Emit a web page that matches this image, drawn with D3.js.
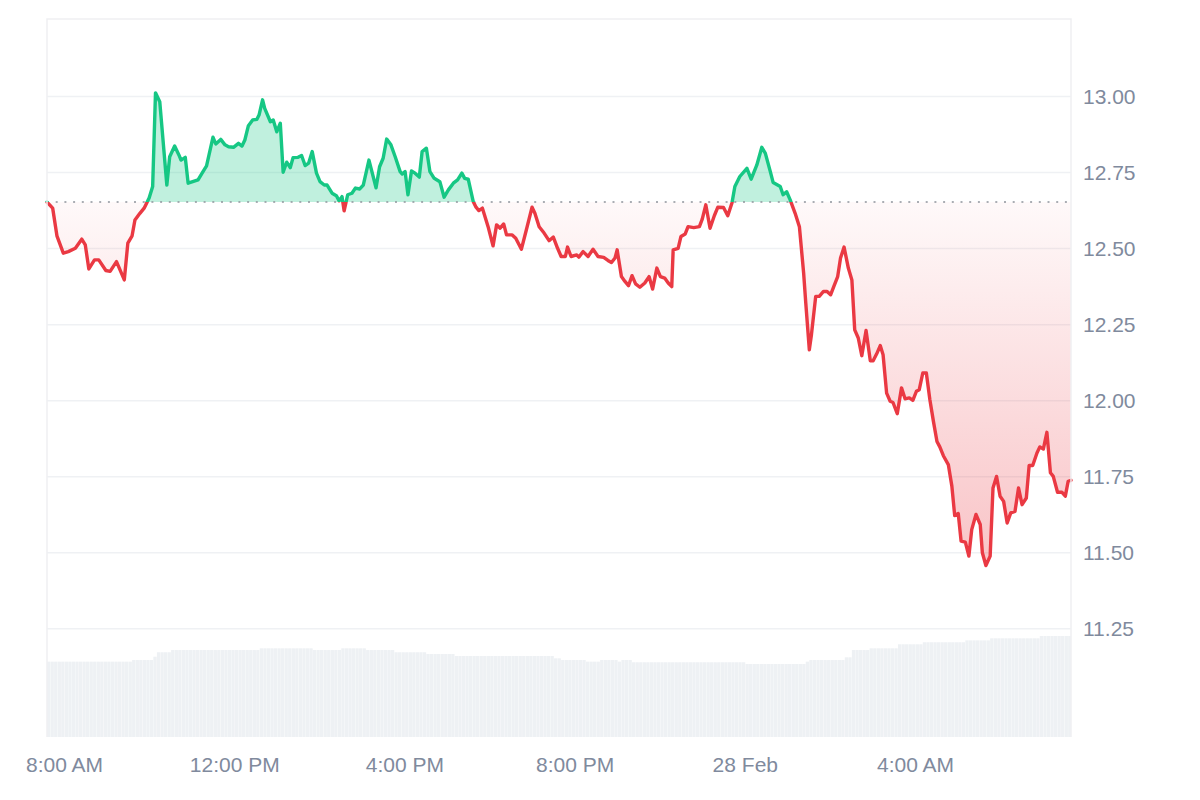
<!DOCTYPE html>
<html><head><meta charset="utf-8">
<script src="https://cdn.jsdelivr.net/npm/d3@7"></script>
<style>
html,body{margin:0;padding:0;background:#fff;}
svg{display:block;font-family:"Liberation Sans",Arial,Helvetica,sans-serif;}
</style>
</head><body>
<svg id="chart" width="1200" height="800"></svg>
<script>
// ---------- DATA ----------
const startTime = "2025-02-27 07:36";
// minutes after startTime for each price sample
const minutes = [
0,8,14,23,30,40,49,54,59,67,73,83,89,98,109,114,120,124,131,137,
144,149,153,159,169,173,180,186,189,195,199,213,220,225,234,238,245,251,256,263,
270,275,279,284,290,296,299,304,307,315,319,324,329,333,338,343,347,354,359,364,
369,374,380,385,391,395,402,408,412,416,419,424,430,435,441,446,454,464,469,474,
479,485,491,498,501,505,509,514,519,525,529,535,540,546,554,560,566,573,579,585,
589,594,601,605,609,614,622,629,634,639,644,648,656,661,669,676,684,688,694,701,
708,714,720,725,731,734,739,747,750,756,763,770,777,785,791,796,801,804,810,815,
820,825,830,836,843,849,854,860,865,871,876,881,883,890,894,900,904,912,920,924,
929,935,941,946,954,960,966,970,977,987,993,1001,1008,1013,1020,1024,1034,1038,1043,1048,
1055,1061,1067,1070,1075,1078,1084,1089,1095,1100,1105,1110,1115,1119,1124,1130,1135,1139,1144,1149,
1155,1161,1165,1170,1175,1179,1184,1189,1193,1199,1205,1210,1216,1221,1226,1230,1235,1240,1245,1250,
1255,1259,1264,1271,1276,1280,1285,1289,1295,1300,1304,1310,1316,1319,1324,1330,1334,1339,1344,1349,
1354,1359,1365,1370,1375,1381,1385,1390,1396,1400,1405,1410,1415,1419,1425,1431,1436,1440,1444
];
const prices = [
12.653,12.633,12.542,12.485,12.490,12.501,12.531,12.512,12.433,12.463,12.463,12.428,12.425,12.457,12.397,12.518,12.542,12.594,12.616,12.633,
12.666,12.704,13.012,12.983,12.709,12.802,12.837,12.808,12.791,12.800,12.715,12.726,12.753,12.772,12.866,12.844,12.859,12.841,12.835,12.833,
12.846,12.837,12.857,12.904,12.923,12.925,12.939,12.989,12.961,12.917,12.923,12.884,12.912,12.751,12.784,12.766,12.799,12.800,12.806,12.773,
12.781,12.819,12.748,12.720,12.709,12.709,12.682,12.674,12.657,12.671,12.624,12.677,12.682,12.699,12.696,12.709,12.791,12.700,12.769,12.797,
12.860,12.841,12.802,12.753,12.745,12.753,12.677,12.755,12.748,12.735,12.819,12.830,12.753,12.731,12.720,12.669,12.693,12.715,12.726,12.748,
12.731,12.728,12.655,12.636,12.625,12.633,12.572,12.509,12.578,12.567,12.581,12.545,12.545,12.534,12.498,12.562,12.636,12.616,12.572,12.551,
12.526,12.538,12.501,12.474,12.474,12.505,12.474,12.479,12.472,12.490,12.474,12.498,12.474,12.471,12.461,12.454,12.469,12.496,12.408,12.392,
12.378,12.411,12.384,12.373,12.387,12.408,12.367,12.436,12.408,12.403,12.387,12.375,12.496,12.501,12.540,12.548,12.572,12.569,12.572,12.597,
12.644,12.567,12.608,12.636,12.635,12.608,12.651,12.704,12.737,12.764,12.728,12.775,12.833,12.813,12.753,12.717,12.704,12.677,12.687,12.660,
12.616,12.572,12.419,12.321,12.167,12.217,12.343,12.343,12.359,12.359,12.348,12.378,12.408,12.469,12.505,12.436,12.397,12.233,12.206,12.148,
12.231,12.131,12.131,12.154,12.181,12.151,12.025,11.998,11.994,11.957,12.042,12.006,12.009,12.001,12.031,12.036,12.091,12.091,12.003,11.932,
11.866,11.848,11.819,11.790,11.719,11.622,11.629,11.538,11.535,11.489,11.576,11.626,11.593,11.500,11.458,11.489,11.713,11.751,11.686,11.669,
11.598,11.631,11.636,11.713,11.658,11.680,11.787,11.787,11.828,11.848,11.841,11.896,11.763,11.751,11.699,11.699,11.686,11.735,11.738
];
// rolling 24h volume (millions), one bar per 5 minutes from startTime
const volumeStepMinutes = 5;
const volumes = [
74.6,74.6,74.6,74.6,74.6,74.6,74.6,74.6,74.6,74.6,74.6,74.6,74.6,74.6,74.6,74.6,74.6,74.6,74.6,74.6,74.6,74.6,74.6,74.6,
76.2,76.2,76.2,76.2,76.2,76.2,
79.5,
83.9,83.9,83.9,83.9,
86.1,86.1,86.1,86.1,86.1,86.1,86.1,86.1,86.1,86.1,86.1,86.1,86.1,86.1,86.1,86.1,86.1,86.1,86.1,86.1,86.1,86.1,86.1,86.1,86.1,
87.8,87.8,87.8,87.8,87.8,87.8,87.8,87.8,87.8,87.8,87.8,87.8,87.8,87.8,87.8,
86.1,86.1,86.1,86.1,86.1,86.1,86.1,86.1,
87.8,87.8,87.8,87.8,87.8,87.8,87.8,
86.1,86.1,86.1,86.1,86.1,86.1,86.1,86.1,
83.9,83.9,83.9,83.9,83.9,83.9,83.9,83.9,83.9,
82.2,82.2,82.2,82.2,82.2,82.2,82.2,82.2,
80.2,80.2,80.2,80.2,80.2,80.2,80.2,80.2,80.2,80.2,80.2,80.2,80.2,80.2,80.2,80.2,80.2,80.2,80.2,80.2,80.2,80.2,80.2,80.2,80.2,80.2,80.2,80.2,
77.9,77.9,
76.2,76.2,76.2,76.2,76.2,76.2,76.2,
74.6,74.6,74.6,74.6,
76.2,76.2,76.2,76.2,76.2,
74.6,
76.2,76.2,76.2,
74.0,74.0,74.0,74.0,74.0,74.0,74.0,74.0,74.0,74.0,74.0,74.0,74.0,74.0,74.0,74.0,74.0,74.0,74.0,74.0,74.0,74.0,74.0,74.0,74.0,74.0,74.0,74.0,74.0,74.0,74.0,74.0,
72.3,72.3,72.3,72.3,72.3,72.3,72.3,72.3,72.3,72.3,72.3,72.3,72.3,72.3,72.3,72.3,72.3,
74.6,
76.2,76.2,76.2,76.2,76.2,76.2,76.2,76.2,76.2,76.2,
78.9,78.9,
86.1,86.1,86.1,86.1,86.1,
87.8,87.8,87.8,87.8,87.8,87.8,87.8,87.8,
91.8,91.8,91.8,91.8,91.8,91.8,91.8,
93.8,93.8,93.8,93.8,93.8,93.8,93.8,93.8,93.8,93.8,93.8,93.8,
95.7,95.7,95.7,95.7,95.7,95.7,95.7,
97.7,97.7,97.7,97.7,97.7,97.7,97.7,97.7,97.7,97.7,97.7,97.7,97.7,97.7,
100.0,100.0,100.0,100.0,100.0,100.0,100.0,100.0,100.0
];
const yTicks = [11.25, 11.50, 11.75, 12.00, 12.25, 12.50, 12.75, 13.00];
const xTickTimes = ["2025-02-27 08:00","2025-02-27 12:00","2025-02-27 16:00","2025-02-27 20:00","2025-02-28 00:00","2025-02-28 04:00"];
const xTickLabels = ["8:00 AM","12:00 PM","4:00 PM","8:00 PM","28 Feb","4:00 AM"];

// ---------- LAYOUT ----------
const L = 47, R = 1071, T = 19, B = 737;
const GREEN = "#16c784", RED = "#ea3943", LABEL = "#808a9d", GRID = "#eff1f4";

const parse = d3.timeParse("%Y-%m-%d %H:%M");
const t0 = parse(startTime);
const addMin = m => new Date(t0.getTime() + m * 60000);
const data = minutes.map((m, i) => ({ t: addMin(m), p: prices[i] }));

const x = d3.scaleTime().domain([t0, addMin(d3.max(minutes))]).range([L, R]);
const y = d3.scaleLinear().domain([11.25, 13.00]).range([628.8, 96.5]);
const vy = d3.scaleLinear().domain([0, d3.max(volumes)]).range([B, 636]);

const basePrice = prices[0];
const baseY = y(basePrice);

const svg = d3.select("#chart");
const defs = svg.append("defs");

defs.append("clipPath").attr("id", "plot").append("rect")
  .attr("x", L).attr("y", T).attr("width", R - L).attr("height", B - T);
defs.append("clipPath").attr("id", "above").append("rect")
  .attr("x", L - 5).attr("y", 0).attr("width", R - L + 10).attr("height", baseY);
defs.append("clipPath").attr("id", "below").append("rect")
  .attr("x", L - 5).attr("y", baseY).attr("width", R - L + 10).attr("height", 800 - baseY);

const redGrad = defs.append("linearGradient").attr("id", "redGrad")
  .attr("gradientUnits", "userSpaceOnUse")
  .attr("x1", 0).attr("x2", 0).attr("y1", baseY).attr("y2", y(d3.min(prices)));
redGrad.append("stop").attr("offset", 0).attr("stop-color", RED).attr("stop-opacity", 0.03);
redGrad.append("stop").attr("offset", 1).attr("stop-color", RED).attr("stop-opacity", 0.30);

// volume bars
const vg = svg.append("g").attr("clip-path", "url(#plot)");
vg.selectAll("rect").data(volumes).join("rect")
  .attr("x", (d, i) => x(addMin(i * volumeStepMinutes)))
  .attr("width", (d, i) => Math.max(0, x(addMin((i + 1) * volumeStepMinutes)) - x(addMin(i * volumeStepMinutes)) - 0.25))
  .attr("y", d => vy(d))
  .attr("height", d => B - vy(d))
  .attr("fill", "#eef1f4");

// grid lines
svg.append("g").selectAll("line").data(yTicks).join("line")
  .attr("x1", L).attr("x2", R)
  .attr("y1", d => y(d)).attr("y2", d => y(d))
  .attr("stroke", GRID).attr("stroke-width", 1.5);

// areas
const area = d3.area().x(d => x(d.t)).y0(baseY).y1(d => y(d.p));
svg.append("path").datum(data).attr("d", area)
  .attr("fill", GREEN).attr("fill-opacity", 0.27).attr("clip-path", "url(#above)");
svg.append("path").datum(data).attr("d", area)
  .attr("fill", "url(#redGrad)").attr("clip-path", "url(#below)");

// baseline dotted
svg.append("line").attr("x1", L).attr("x2", R).attr("y1", baseY).attr("y2", baseY)
  .attr("stroke", "#8f949c").attr("stroke-width", 1.6).attr("stroke-dasharray", "2 6.7");

// price line
const line = d3.line().x(d => x(d.t)).y(d => y(d.p));
svg.append("path").datum(data).attr("d", line).attr("fill", "none")
  .attr("stroke", GREEN).attr("stroke-width", 3.4).attr("stroke-linejoin", "round").attr("stroke-linecap", "round")
  .attr("clip-path", "url(#above)");
svg.append("path").datum(data).attr("d", line).attr("fill", "none")
  .attr("stroke", RED).attr("stroke-width", 3.4).attr("stroke-linejoin", "round").attr("stroke-linecap", "round")
  .attr("clip-path", "url(#below)");

// plot frame (left, top, right)
svg.append("path").attr("d", `M${L},${B}V${T}H${R}V${B}`)
  .attr("fill", "none").attr("stroke", "#eff0f2").attr("stroke-width", 1.5);

// y-axis labels (right)
const yAxis = d3.axisRight(y).tickValues(yTicks).tickFormat(d3.format(".2f")).tickSize(0).tickPadding(12);
const yg = svg.append("g").attr("transform", `translate(${R},0)`).call(yAxis);
yg.select(".domain").remove();
yg.selectAll("text").attr("fill", LABEL).attr("font-size", 21).attr("font-family", '"Liberation Sans",Arial,sans-serif');

// x-axis labels
const xTicks = xTickTimes.map(s => parse(s));
const xAxis = d3.axisBottom(x).tickValues(xTicks).tickFormat((d, i) => xTickLabels[i]).tickSize(0).tickPadding(20);
const xg = svg.append("g").attr("transform", `translate(0,${B})`).call(xAxis);
xg.select(".domain").remove();
xg.selectAll("text").attr("fill", LABEL).attr("font-size", 21).attr("font-family", '"Liberation Sans",Arial,sans-serif');
</script>
</body></html>
